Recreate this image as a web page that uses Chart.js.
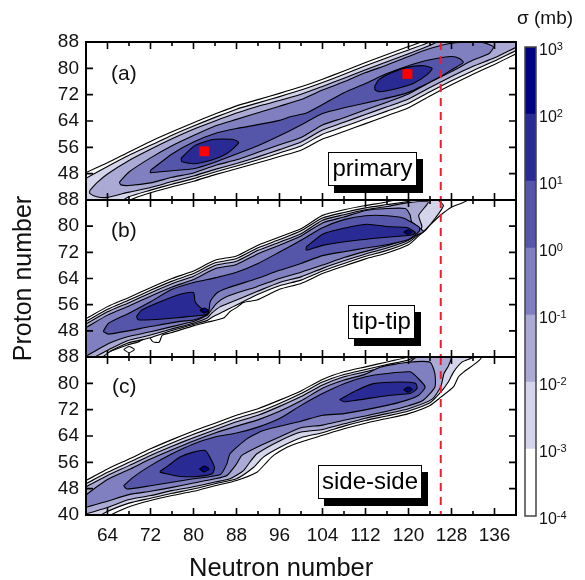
<!DOCTYPE html>
<html>
<head>
<meta charset="utf-8">
<script src="https://cdn.jsdelivr.net/npm/chart.js@4"></script>
<style>
  body { margin: 0; background: #fff; font-family: "Liberation Sans", Arial, sans-serif; }
  #page { position: relative; width: 585px; height: 580px; overflow: hidden; }
  canvas { position: absolute; left: 0; top: 0; }
  .tag { position: absolute; font-size: 21px; line-height: 24px; color: #111; }
  .box { position: absolute; box-sizing: border-box; background: #fff; border: 1px solid #000; box-shadow: 6px 7px 0 #000;
         font-size: 24px; line-height: 30px; text-align: center; color: #000; }
</style>
</head>
<body>
<div id="page">
  <canvas id="chartA" width="585" height="580"></canvas>
  <canvas id="chartB" width="585" height="580"></canvas>
  <canvas id="chartC" width="585" height="580"></canvas>
  <canvas id="colorbar" width="585" height="580"></canvas>
  <div class="tag" style="left:111px;top:61px">(a)</div>
  <div class="tag" style="left:111px;top:218px">(b)</div>
  <div class="tag" style="left:112px;top:374px">(c)</div>
  <div class="box" style="left:328px;top:152px;width:89px;height:34px">primary</div>
  <div class="box" style="left:348px;top:305px;width:67px;height:34px">tip-tip</div>
  <div class="box" style="left:318px;top:465px;width:104px;height:34px">side-side</div>
  <div class="tag" style="left:517px;top:6px;font-size:19px">σ (mb)</div>
  <div class="tag" style="left:189px;top:553px;font-size:25.5px;line-height:28px">Neutron number</div>
</div>
<script>
// axis ticks
const neutronTicks = [64, 72, 80, 88, 96, 104, 112, 120, 128, 136];
const neutronMinorTicks = [60, 68, 76, 84, 92, 100, 108, 116, 124, 132, 140];
const protonTicks = [40, 48, 56, 64, 72, 80, 88];

// colour bands, lowest first
const bandEdges = [1e-4, 1e-3, 1e-2, 1e-1, 1e0, 1e1, 1e2, 1e3];
const bandExponents = ['-4', '-3', '-2', '-1', '0', '1', '2', '3'];
const bandColors = ['#ffffff', '#d4d4ea', '#aaaad5', '#8080c0', '#5555aa', '#2a2a95', '#000080'];

// contours as [neutron, proton], level 1 is 1e-4 mb and so on
const a1 = [[58,46.3],[60,48.3],[64,51.3],[68,54.6],[72,57.8],[76,60.7],[80,63.5],[84,66.1],[88,68.6],[92,70.5],[96,72.4],[100,74.4],[104,76.7],[108,79.2],[112,81.8],[116,84.2],[120,86.6],[124,89],[132,95],[144,100],[144,87.5],[140,84.4],[136,81.2],[132,78.2],[128,75],[124,71.6],[120,68],[116,65.6],[112,63.2],[108,60.8],[104,58.5],[100,55.1],[96,53.2],[92,51.3],[88,49.5],[84,47.7],[80,45.7],[76,44],[72,42.2],[68,39.9],[60,33],[58,32]];
const a2 = [[58,44.5],[60,46.6],[64,50.2],[68,53.6],[72,56.6],[76,59.7],[80,62.5],[84,65.1],[88,67.6],[92,69.5],[96,71.4],[100,73.4],[104,75.7],[108,78.2],[112,80.8],[116,83.2],[120,85.6],[124,88],[132,94],[144,100],[144,88.5],[140,85.4],[136,82.2],[132,79.3],[128,76.2],[124,72.9],[120,69.4],[116,67],[112,64.7],[108,62.3],[104,60],[100,56.4],[96,54.3],[92,52.2],[88,50.3],[84,48.5],[80,46.5],[76,44.8],[72,43],[68,41],[64,37],[58,31]];
const a3 = [[60.7,42.9],[62,45.2],[64,47.9],[68,52],[72,55.4],[76,58.6],[80,61.5],[84,64],[88,66.4],[92,68.5],[96,70.2],[100,72.1],[104,74.5],[108,77],[112,79.6],[116,82],[120,84.4],[124,87],[128,90],[144,101],[144,89.5],[140,86.4],[136,83.2],[132,80.6],[128,77.5],[124,74.2],[120,70.7],[116,68.3],[112,66],[108,63.6],[104,61.3],[100,57.6],[96,55.3],[92,53.1],[88,51.1],[84,49.3],[80,47.3],[76,45.6],[72,43.8],[68,42.4],[64,40.8],[62,41],[60.7,42]];
const a4 = [[66.2,45.4],[68,48.5],[72,52.8],[76,56.5],[80,59.6],[84,62.5],[88,64.5],[92,66.5],[96,68.5],[100,70.5],[104,73.4],[108,75.9],[112,78.7],[116,81],[120,83.6],[124,86],[128,87.6],[132,88],[134,87.8],[135.8,86.5],[135,84.5],[132,82.5],[128,79],[124,75.8],[120,72.2],[116,69.7],[112,67.4],[108,65],[104,62.8],[100,59],[96,56.8],[92,54.5],[88,52.2],[84,50.5],[80,48.2],[76,46.9],[72,45.2],[68,44.4],[66.5,44.6]];
const a5 = [[72,49],[76,54],[80,57.6],[84,60.2],[88,61.7],[92,62.9],[96,64.2],[98,65.3],[101,66.4],[104,69],[108,72.6],[112,75.4],[116,78.4],[120,80.8],[124,82.6],[128,83.6],[129.5,83],[130.2,81.8],[129,80.5],[126,77.5],[120,72.7],[114,70.2],[108,68],[104,66.3],[100,62.8],[96,59.5],[92,56.5],[88,54],[84,51.5],[80,49.5],[76,48.9],[72,48.3]];
const a6Left = [[77.7,52.75],[80.3,56.6],[83.7,58.4],[87.4,58.4],[88.4,57.4],[86.2,54.1],[83.1,52],[80,51],[77.8,51.7]];
const a6Right = [[113.7,74.4],[114.4,76.4],[116.6,78.5],[119.7,80.3],[122.8,80.8],[124.4,80],[123.4,78],[120.9,75.4],[117.9,73.9],[114.7,72.9],[113.8,73.4]];

const b1 = [[58,50],[60,51.7],[64,55.4],[68,58.2],[72,61.2],[76,64],[80,66.3],[84,69.6],[88,70.9],[92,74.2],[96,76.7],[100,79.2],[104,83.3],[108,85],[112,86.3],[116,87.4],[120,89],[131,92],[131,88],[128,85.8],[126,83.4],[124,80.3],[123.2,78.8],[122,77.2],[120,74.3],[116,71.8],[112,70],[108,67.8],[104,65.5],[100,62.5],[96,60.7],[91.8,57.4],[89.3,56.7],[88,55.1],[86.8,53.9],[85.6,51.9],[82.5,50.6],[80.1,49.6],[75.8,47.4],[74.2,46.7],[73.6,44.5],[72.4,44.7],[71.7,46.2],[69.9,44.7],[67.7,43.7],[63.4,40.9],[60,37],[58,36]];
const bIslet = [[67,42.3],[68,43.2],[69,42.3],[68,41.3]];
const b2 = [[58,49.2],[60,50.9],[64,54.6],[68,57.4],[72,60.4],[76,63.2],[80,65.5],[84,68.8],[88,70.1],[92,73.4],[96,75.9],[100,78.6],[104,82.5],[108,84.2],[112,85.6],[116,86.6],[120,87.6],[124,90],[125.5,88],[126.5,86.3],[125,82.5],[123.2,79],[122,77.6],[120,75.1],[116,72.6],[112,70.8],[108,68.6],[104,66.3],[100,63.5],[96,61.8],[91.8,59],[87.4,55.4],[85.6,53.9],[83.7,52.4],[82.6,51.2],[80.1,50],[75.8,48],[72,45.9],[67.7,44.2],[64.3,41.5],[60,36],[58,35]];
const b3 = [[58,48.4],[60,50.1],[64,53.8],[68,56.6],[72,59.6],[76,62.4],[80,64.7],[84,68],[88,69.3],[92,72.6],[96,75.1],[100,77.7],[104,81.8],[108,83.5],[112,85],[116,86],[120,87.2],[123.7,87.4],[121.9,83.3],[122.5,79.8],[121.5,77.5],[120,75.7],[116,73.3],[112,71.5],[108,69.4],[104,67.1],[100,64.5],[96,62.8],[91.8,60],[86.5,56.4],[85,55.4],[83.4,53.4],[82.6,52],[80.1,50.4],[75.8,48.5],[72,46.7],[67.7,45],[64.3,42.3],[61.6,39.9],[58,36]];
const b4 = [[58,47.2],[60,49],[64,52.8],[68,55.6],[72,58.6],[76,61.4],[80,63.7],[84,67],[88,68.3],[92,71.6],[96,74.2],[100,77],[104,81],[108,82.8],[112,84.8],[116,85.4],[119.4,85.4],[120.3,83.4],[120.6,81.3],[122.8,78.3],[120,76.4],[116,74],[112,72.3],[108,70.4],[104,68.1],[100,65.9],[96,64],[91.8,61.5],[86.2,58.5],[84.3,56.4],[83.1,53.9],[82.6,52.8],[80.1,50.9],[75.8,49.2],[72,47.7],[67.7,46.2],[64.3,44.2],[60,40.3],[58,39]];
const b5 = [[63.2,47.8],[64.2,50.3],[68,53.4],[72,56.9],[76,60.7],[80,62.8],[84,64.2],[88,65.9],[92,68.6],[96,72.1],[100,75.7],[104,79.5],[108,82],[112,83.2],[116,83.2],[119,82.5],[122,79.7],[122,78.5],[120,75.9],[116,74.3],[112,73.3],[108,72.2],[104,71],[100,68.6],[96,66.5],[91.8,64],[86.2,61],[84.3,59.5],[83.1,56.9],[82.8,53.4],[81.9,52.4],[80,51.3],[77.5,50.9],[72,49.3],[64.2,47]];
const b6Left = [[69.4,52.4],[70.4,54.4],[73.8,56.9],[77.5,59.2],[80,59.7],[80.3,56.9],[81.5,54.9],[82.8,53.9],[82.2,52.9],[77.5,52.1],[72,51.4],[69.7,51.4]];
const b6Right = [[101,73.7],[104.2,77.7],[109.2,79.8],[112.3,80.6],[116.6,79.8],[119.7,79.6],[121.3,78],[120.3,77.2],[116.6,76.7],[110.4,75.7],[104.2,74.2],[101,72.7]];
const b7Left = [[81.2,54.3],[82,55],[82.8,54.3],[82,53.5]];
const b7Right = [[119.1,78.2],[119.9,78.9],[120.7,78.2],[119.9,77.5]];

const c1 = [[58,49],[60,50.5],[64,54],[68,57],[72,60.1],[76,62.9],[80,65.5],[84,67.9],[88,70.3],[92,72.3],[96,74.9],[100,77.7],[104,81.2],[108,83.5],[112,85],[116,86.5],[120,87.9],[134,92],[133.4,87.4],[130.3,83.5],[129.3,82],[128.4,79],[126,75.8],[124,73.3],[120,70.8],[116,69.3],[112,67.9],[108,66.2],[104,64.2],[100,62.2],[97.4,60.6],[94.9,58.1],[93.6,56],[91.8,53],[88,50.5],[84,48.9],[80,47.2],[76,45.9],[72,44.4],[68,42.5],[64.7,40.1],[60,36],[58,35]];
const c2 = [[58,48],[60,49.5],[64,53],[68,56],[72,59.1],[76,61.9],[80,64.5],[84,66.9],[88,69.3],[92,71.3],[96,73.9],[100,76.9],[104,80.4],[108,82.7],[112,84.2],[116,85.7],[120,87.1],[124,90],[132,90],[132,88],[130,86.5],[128.4,83.5],[127.4,80.4],[126,77.3],[124,74.1],[120,71.6],[116,70.1],[112,68.7],[108,67],[104,65],[100,63.5],[96.1,60.6],[93,57.6],[91.2,54.5],[88,51],[84,49.5],[80,47.9],[76,46.6],[72,45.1],[68,43.6],[64,41.1],[62.6,39.8],[58,36]];
const c3 = [[58,47],[60,48.6],[64,52],[68,55],[72,58.1],[76,60.9],[80,63.5],[84,65.9],[88,68.3],[92,70.3],[96,73],[100,76],[104,79.5],[108,82],[112,83.5],[116,85],[120,86.3],[122,88.5],[128,88.5],[127.4,85.2],[126.6,83],[126,79],[124.4,75.2],[120,72.3],[116,70.8],[112,69.4],[108,67.7],[104,66],[100,65.2],[96,62.5],[91.8,58.6],[90.5,56.1],[89.3,53.5],[86.8,51],[84,50],[80,48.6],[76,47.4],[72,45.9],[68,44.7],[64,42.3],[60,40.3],[58,39]];
const c4 = [[58,45],[60,46.2],[61.7,48.2],[64,50.8],[68,53.8],[72,57],[76,59.8],[80,62.5],[84,64.9],[88,67],[92,68.9],[96,71.5],[100,74.7],[104,78.5],[108,81],[112,82.8],[114.7,84.9],[120,86.4],[124,86.4],[124.9,83],[124.9,78.8],[122.6,74.7],[120,73.2],[116,71.5],[112,70.1],[108,68.8],[104,67.3],[100,66.5],[96,63.7],[91.8,60.6],[89,58.1],[88,55.5],[86.2,52],[84,51],[80,49.7],[76,48.4],[72,47.2],[68,46.2],[64,44.2],[60,42.3],[58,41]];
const c5 = [[67,48.9],[68.8,51.5],[72,55],[76,58.6],[80,61.6],[84,63.7],[88,64.9],[92,66.7],[96,69.3],[100,73.3],[104,76.9],[108,79.9],[112,82],[116,83],[120.3,83.5],[121.8,81.5],[123.1,78.9],[121.9,76.4],[119.7,74.9],[116,73.3],[108,70.8],[104,70.3],[100,68.5],[93,65.7],[90,63.2],[86.8,58.6],[86.2,55.5],[85,52.3],[80,51],[72,48.9],[67.6,47.9]];
const c6Left = [[73.8,53.3],[75.3,55],[77.5,57.6],[80,59.1],[82.2,59.6],[83.2,57.1],[83.9,54.5],[83.5,52.5],[80.7,51.7],[77.5,51.7],[75.6,52.3],[73.8,53]];
const c6Right = [[107.2,75.1],[110.4,77.9],[113.5,79.9],[118.5,80.4],[121.3,80],[121.6,78.4],[120.3,76.9],[116.6,76.4],[110.4,74.9],[108,74.4]];
const c7Left = [[81.1,54],[82,54.9],[82.9,54],[82,53.1]];
const c7Right = [[119.1,78.1],[119.9,78.9],[120.7,78.1],[119.9,77.3]];

// red squares of panel (a) and the N=126 shell line
const primaryPeaks = [[82, 54.8], [119.8, 78.3]];
const shellNeutron = 126;

const frameTicks = {
  id: 'frameTicks',
  afterDatasetsDraw(chart) {
    const { ctx, chartArea: area, scales: { x, y } } = chart;
    ctx.save();
    ctx.strokeStyle = '#000';
    ctx.lineWidth = 1.6;
    ctx.beginPath();
    neutronTicks.forEach(v => {
      const px = x.getPixelForValue(v);
      ctx.moveTo(px, area.top); ctx.lineTo(px, area.top + 7);
      ctx.moveTo(px, area.bottom); ctx.lineTo(px, area.bottom - 7);
    });
    neutronMinorTicks.forEach(v => {
      const px = x.getPixelForValue(v);
      ctx.moveTo(px, area.top); ctx.lineTo(px, area.top + 4);
      ctx.moveTo(px, area.bottom); ctx.lineTo(px, area.bottom - 4);
    });
    protonTicks.forEach(v => {
      const py = y.getPixelForValue(v);
      ctx.moveTo(area.left, py); ctx.lineTo(area.left + 7, py);
      ctx.moveTo(area.right, py); ctx.lineTo(area.right - 7, py);
    });
    ctx.stroke();
    ctx.lineWidth = 2;
    ctx.strokeRect(area.left, area.top, area.right - area.left, area.bottom - area.top);
    ctx.restore();
  }
};

function contourSet(points, level) {
  const closed = points.concat([points[0]]).map(p => ({ x: p[0], y: p[1] }));
  return {
    data: closed,
    showLine: true,
    fill: 'shape',
    tension: 0.2,
    backgroundColor: bandColors[level - 1],
    borderColor: '#000',
    borderWidth: 1.1,
    pointRadius: 0,
    order: 100 - level
  };
}

function panelChart(id, levels, top, bottom, isLast, peaks, yTitle) {
  const datasets = [];
  levels.forEach((polys, i) => polys.forEach(p => datasets.push(contourSet(p, i + 1))));
  datasets.push({
    data: [{ x: shellNeutron, y: 88 }, { x: shellNeutron, y: 40 }],
    showLine: true,
    borderColor: '#ee1c2e',
    borderWidth: 2,
    borderDash: [8, 6],
    pointRadius: 0,
    order: 2
  });
  if (peaks) {
    datasets.push({
      data: peaks.map(p => ({ x: p[0], y: p[1] })),
      pointStyle: 'rect',
      pointRadius: 7,
      backgroundColor: '#ff0000',
      borderWidth: 0,
      order: 1
    });
  }
  return new Chart(document.getElementById(id), {
    type: 'scatter',
    data: { datasets },
    plugins: [frameTicks],
    options: {
      responsive: false,
      animation: false,
      events: [],
      layout: { padding: { top: top, bottom: isLast ? 0 : 580 - bottom, right: 69, left: 0 } },
      plugins: { legend: { display: false }, tooltip: { enabled: false } },
      scales: {
        x: {
          type: 'linear',
          display: isLast,
          min: 60,
          max: 140,
          afterBuildTicks: s => { s.ticks = neutronTicks.map(v => ({ value: v })); },
          afterFit: s => { if (isLast) s.height = 580 - bottom; },
          grid: { display: false, drawTicks: false },
          border: { display: false },
          ticks: { color: '#111', padding: 9, maxRotation: 0, autoSkip: false, font: { family: 'Liberation Sans', size: 19 } }
        },
        y: {
          type: 'linear',
          min: 40,
          max: 88,
          afterBuildTicks: s => {
            s.ticks = protonTicks.filter(v => isLast || v > 40).map(v => ({ value: v }));
          },
          afterFit: s => { s.width = 86; },
          grid: { display: false, drawTicks: false },
          border: { display: false },
          ticks: { color: '#111', padding: 7, autoSkip: false, font: { family: 'Liberation Sans', size: 19 } },
          title: {
            display: !!yTitle,
            text: yTitle || '',
            color: '#111',
            padding: { top: 9, bottom: 0 },
            font: { family: 'Liberation Sans', size: 25, lineHeight: 1.2 }
          }
        }
      }
    }
  });
}

panelChart('chartA', [[a1], [a2], [a3], [a4], [a5], [a6Left, a6Right]], 42, 200, false, primaryPeaks);
panelChart('chartB', [[b1, bIslet], [b2], [b3], [b4], [b5], [b6Left, b6Right], [b7Left, b7Right]], 200, 357, false, null, 'Proton number');
panelChart('chartC', [[c1], [c2], [c3], [c4], [c5], [c6Left, c6Right], [c7Left, c7Right]], 357, 515, true, null);

const barFrame = {
  id: 'barFrame',
  afterDatasetsDraw(chart) {
    const { ctx, chartArea: area, scales: { y } } = chart;
    ctx.save();
    ctx.strokeStyle = '#444';
    ctx.lineWidth = 1.5;
    ctx.strokeRect(area.left, area.top, area.right - area.left, area.bottom - area.top);
    ctx.fillStyle = '#111';
    ctx.textAlign = 'left';
    bandEdges.forEach((v, i) => {
      const py = y.getPixelForValue(v);
      ctx.font = '16px "Liberation Sans"';
      ctx.fillText('10', 539, py + 8);
      const w = ctx.measureText('10').width;
      ctx.font = '11px "Liberation Sans"';
      ctx.fillText(bandExponents[i], 539 + w, py + 3);
    });
    ctx.restore();
  }
};

new Chart(document.getElementById('colorbar'), {
  type: 'bar',
  data: {
    labels: ['σ'],
    datasets: bandColors.map((c, i) => ({
      data: [[bandEdges[i], bandEdges[i + 1]]],
      backgroundColor: c,
      borderWidth: 0,
      grouped: false,
      barPercentage: 1,
      categoryPercentage: 1
    }))
  },
  plugins: [barFrame],
  options: {
    responsive: false,
    animation: false,
    events: [],
    layout: { padding: { left: 525, right: 49, top: 47, bottom: 64 } },
    plugins: { legend: { display: false }, tooltip: { enabled: false } },
    scales: {
      x: { display: false },
      y: { type: 'logarithmic', display: false, min: 1e-4, max: 1e3 }
    }
  }
});
</script>
</body>
</html>
